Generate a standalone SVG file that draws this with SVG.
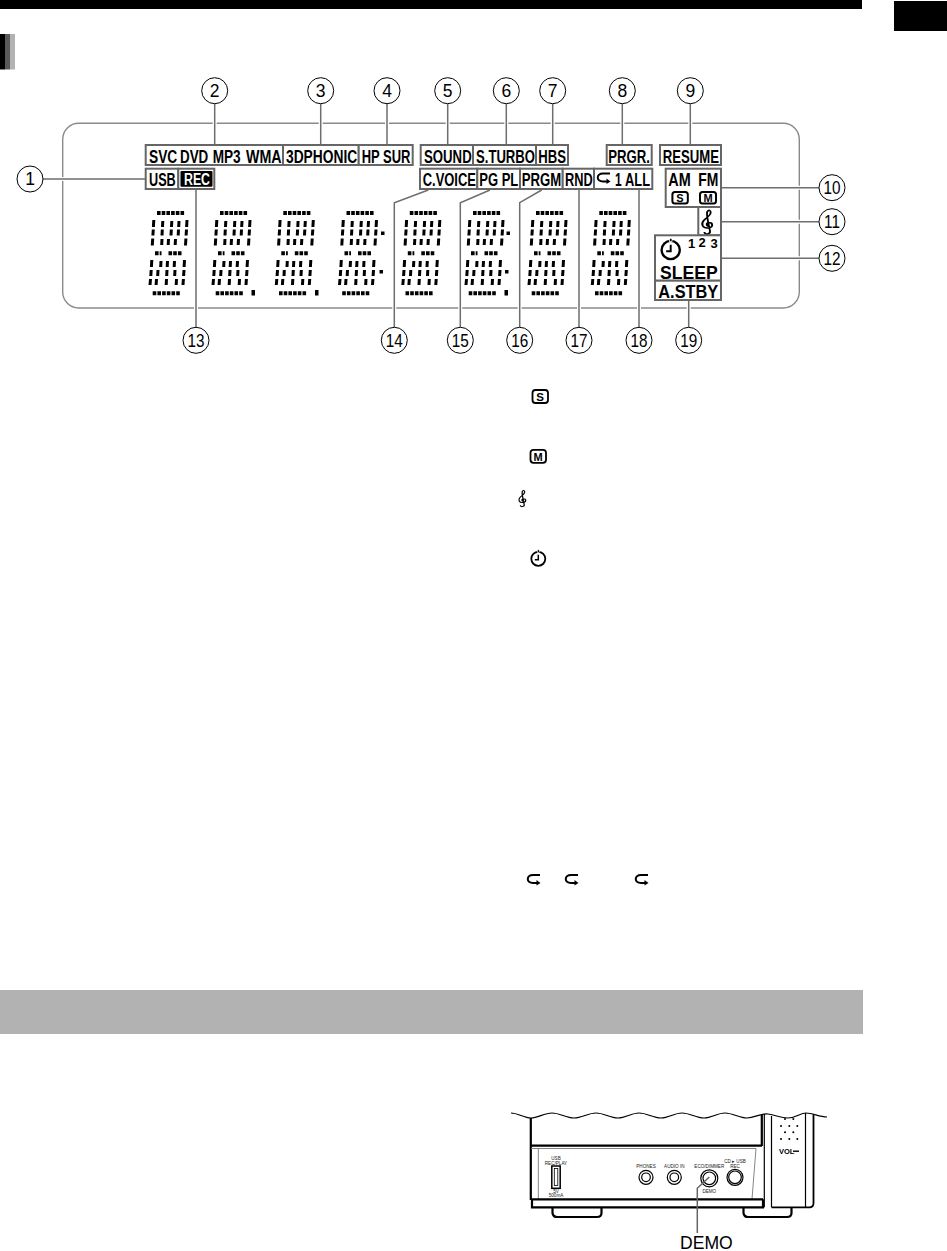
<svg xmlns="http://www.w3.org/2000/svg" xmlns:xlink="http://www.w3.org/1999/xlink" width="947" height="1251" viewBox="0 0 947 1251">
<style>
text{font-family:"Liberation Sans",Arial,sans-serif}
.lb{font-weight:bold;font-size:19px;fill:#000}
.box{fill:#fff;stroke:#666;stroke-width:2}
.frame{fill:none;stroke:#8a8a8a;stroke-width:1.4}
.lead{fill:none;stroke:#6e6e6e;stroke-width:1.5}
.halo{fill:none;stroke:#fff;stroke-width:4}
.num{fill:#fff;stroke:#000;stroke-width:1}
.numt{font-size:17.5px;text-anchor:middle;fill:#000}
.seg{fill:none;stroke:#000;stroke-width:3}
.hseg{fill:none;stroke:#000;stroke-width:4;stroke-dasharray:3.6 1.1}
.ln{fill:none;stroke:#000;stroke-width:1.2}
.th{fill:none;stroke:#000;stroke-width:2.2}
.gr{fill:none;stroke:#777;stroke-width:.9}
.tiny{font-size:4.6px;text-anchor:middle;fill:#222}
</style>
<defs>
<path id="leaders" d="M43 179H146M214.700 104V145M320.700 104V145M387 104V145M447.700 104V145M506.300 104V145M552.700 104V145M622.300 104V145M690.300 104V145M196 189V327M394.300 327V202.700L428.300 190M460.300 327V202.700L490 190M519.700 327V202.700L541.700 190M579 189V327M639 189V327M688.700 300V327M721 187.700H819M721 221.700H819M721 258.300H819"/>
<g id="digit">
<path class="hseg" d="M157 213H185"/>
<path class="hseg" d="M155 253.300H161.500M168.500 253.300H181.500"/>
<path class="hseg" d="M152.700 293.300H180"/>
<path class="seg" d="M153.800 220l-.4 7M162.800 221l-.3 6M171.800 221l-.3 6M179 221l-.3 6M187 220l-.4 7M153.300 229.500l-.4 6M162.300 229.500l-.3 6M171.300 229.500l-.3 6M178.500 229.500l-.3 6M186.500 229.500l-.4 6M152.700 238.500l-.4 7M162 239l-.3 6M168.500 239l-.3 6M175.500 239l-.3 6M185.900 238.500l-.4 7"/>
<path class="seg" d="M151.800 260l-.4 7M161 261l-.3 6M167.500 261l-.3 6M174.500 261l-.3 6M184.500 260l-.4 7M151.200 270l-.4 6M158 270l-.3 6M167 270l-.3 6M175 270l-.3 6M184 270l-.4 6M150.500 279l-.5 6M156.500 279l-.4 6M166.500 279l-.3 6M176.500 279l-.3 6M183.400 279l-.4 6"/>
</g>
<path id="clef" fill="none" stroke="#000" stroke-width="1.500" d="M1.500 4.500C-1 4.500-1.500 .5 1 .5C4.500 .5 5 5.500 .5 6C-4 6.500-5.500 2-3-1.500C-1-4 2-6 2.500-9C2.800-11.500 .8-13-.3-10C-1-7 1 3 2 9C2.500 12.500-2.500 13-2.500 10"/>
<g id="loop"><path fill="none" stroke="#000" stroke-width="2" d="M13 1H6C-1 1-1 9 6 9H10"/><path d="M9.500 6L13.500 9L9.500 11.500Z"/></g>
<g id="timer"><circle cx="0" cy="0" r="7" fill="none" stroke="#000" stroke-width="1.800"/><path d="M0-4V1H-3.500" fill="none" stroke="#000" stroke-width="1.500"/><rect x="-1" y="-9" width="2" height="2.500" fill="#000" stroke="#fff" stroke-width=".6"/></g>
</defs>

<g id="page-marks">
<rect x="0" y="0" width="862" height="9" fill="#000"/>
<rect x="894" y="1" width="53" height="30" fill="#000"/>
<rect x="0" y="34" width="5" height="35.500" fill="#000"/>
<rect x="5" y="34" width="5" height="35.500" fill="#595959"/>
<rect x="10" y="34" width="5" height="35.500" fill="#b2b2b2"/>
<rect x="0" y="990" width="863" height="44" fill="#b2b2b2"/>
</g>

<rect id="display-frame" x="62.700" y="123.300" width="736.600" height="184.700" rx="16" class="frame"/>

<g id="connectors">
<use xlink:href="#leaders" href="#leaders" class="halo"/>
<use xlink:href="#leaders" href="#leaders" class="lead"/>
</g>

<g id="digits">
<use href="#digit"/>
<use href="#digit" x="63"/>
<use href="#digit" x="126.300"/>
<use href="#digit" x="189.500"/>
<use href="#digit" x="252.800"/>
<use href="#digit" x="316"/>
<use href="#digit" x="379"/>
<use href="#digit" x="442.300"/>
<rect x="251.500" y="290" width="3.500" height="5.500"/>
<rect x="315" y="290" width="3.500" height="5.500"/>
<rect x="381" y="231.500" width="3.500" height="3.500"/>
<rect x="379.500" y="270" width="3.500" height="3.500"/>
<rect x="506.500" y="231.500" width="3.500" height="3.500"/>
<rect x="505" y="270" width="3.500" height="3.500"/>
<rect x="504.500" y="290" width="3.500" height="5.500"/>
</g>

<g id="label-svc"><rect class="box" x="145.700" y="145" width="137.300" height="20"/>
<text class="lb" transform="translate(149 163) scale(.725 1)">SVC</text>
<text class="lb" transform="translate(180 163) scale(.706 1)">DVD</text>
<text class="lb" transform="translate(212.700 163) scale(.717 1)">MP3</text>
<text class="lb" transform="translate(246 163) scale(.752 1)">WMA</text></g>
<g id="label-3d"><rect class="box" x="283" y="145" width="75.700" height="20"/><text class="lb" transform="translate(286 163) scale(.726 1)">3DPHONIC</text></g>
<g id="label-hpsur"><rect class="box" x="358.700" y="145" width="54" height="20"/><text class="lb" transform="translate(361.700 163) scale(.683 1)">HP SUR</text></g>
<g id="label-sound"><rect class="box" x="420.700" y="145" width="52.300" height="20"/><text class="lb" transform="translate(424 163) scale(.695 1)">SOUND</text></g>
<g id="label-sturbo"><rect class="box" x="473" y="145" width="63" height="20"/><text class="lb" transform="translate(476 163) scale(.69 1)">S.TURBO</text></g>
<g id="label-hbs"><rect class="box" x="536" y="145" width="32" height="20"/><text class="lb" transform="translate(538.300 163) scale(.691 1)">HBS</text></g>
<g id="label-prgr"><rect class="box" x="606.700" y="145" width="45" height="20"/><text class="lb" transform="translate(608.300 163) scale(.693 1)">PRGR.</text></g>
<g id="label-resume"><rect class="box" x="660" y="145" width="61" height="20"/><text class="lb" transform="translate(662.700 163) scale(.693 1)">RESUME</text></g>

<g id="label-usb"><rect class="box" x="145.700" y="168.700" width="32.600" height="20.300"/><text class="lb" transform="translate(149 186.300) scale(.666 1)">USB</text></g>
<g id="label-rec"><rect class="box" x="178.300" y="168.700" width="36" height="20.300"/><rect x="180.500" y="171" width="32" height="15.700" rx="1" fill="#000"/><text class="lb" transform="translate(184 184.700) scale(.77 1)" style="fill:#fff;font-size:16px">REC</text></g>
<g id="label-cvoice"><rect class="box" x="420" y="168.700" width="57.300" height="20.300"/><text class="lb" transform="translate(422.700 186.300) scale(.682 1)">C.VOICE</text></g>
<g id="label-pgpl"><rect class="box" x="477.300" y="168.700" width="42.700" height="20.300"/><text class="lb" transform="translate(479.300 186.300) scale(.684 1)">PG PL</text></g>
<g id="label-prgm"><rect class="box" x="520" y="168.700" width="42.700" height="20.300"/><text class="lb" transform="translate(521.700 186.300) scale(.695 1)">PRGM</text></g>
<g id="label-rnd"><rect class="box" x="562.700" y="168.700" width="31.300" height="20.300"/><text class="lb" transform="translate(565 186.300) scale(.673 1)">RND</text></g>
<g id="label-repeat"><rect class="box" x="594" y="168.700" width="58.300" height="20.300"/><use href="#loop" transform="translate(597 172.500)"/><text class="lb" transform="translate(615 186.300) scale(.63 1)">1</text><text class="lb" transform="translate(625 186.300) scale(.677 1)">ALL</text></g>

<g id="label-amfm"><rect class="box" x="665.700" y="168.700" width="55.300" height="38.300"/>
<text class="lb" transform="translate(668.300 185.500) scale(.759 1)">AM</text>
<text class="lb" transform="translate(698.300 185.500) scale(.73 1)">FM</text>
<rect x="672.400" y="192" width="15.400" height="11.600" rx="2.500" fill="#fff" stroke="#000" stroke-width="2"/>
<text x="680" y="202" font-size="11" font-weight="bold" text-anchor="middle">S</text>
<rect x="700" y="192" width="16" height="11.600" rx="2.500" fill="#fff" stroke="#000" stroke-width="2"/>
<text x="708" y="202" font-size="11" font-weight="bold" text-anchor="middle">M</text></g>
<g id="label-clef"><rect class="box" x="698.300" y="207" width="22.700" height="28.300"/><use href="#clef" transform="translate(707.500 222) scale(1.25 1)"/></g>
<g id="label-timer"><rect class="box" x="655" y="235.300" width="66" height="45.400"/>
<use href="#timer" transform="translate(670.700 250) scale(1.300)"/>
<text x="691.700" y="247.500" font-size="13" font-weight="bold" text-anchor="middle">1</text>
<text x="702" y="246.500" font-size="13" font-weight="bold" text-anchor="middle">2</text>
<text x="714" y="247.500" font-size="13" font-weight="bold" text-anchor="middle">3</text>
<text class="lb" transform="translate(660 278.500) scale(.926 1)">SLEEP</text></g>
<g id="label-astby"><rect class="box" x="655" y="280.700" width="66" height="19.300"/><text class="lb" transform="translate(658.300 297.500) scale(.861 1)">A.STBY</text></g>

<g id="n1"><circle class="num" cx="30" cy="179" r="13"/><text class="numt" x="30" y="185.300">1</text></g>
<g id="n2"><circle class="num" cx="214.700" cy="90.700" r="13"/><text class="numt" x="214.700" y="97">2</text></g>
<g id="n3"><circle class="num" cx="320.700" cy="90.700" r="13"/><text class="numt" x="320.700" y="97">3</text></g>
<g id="n4"><circle class="num" cx="387" cy="90.700" r="13"/><text class="numt" x="387" y="97">4</text></g>
<g id="n5"><circle class="num" cx="447.700" cy="90.700" r="13"/><text class="numt" x="447.700" y="97">5</text></g>
<g id="n6"><circle class="num" cx="506.300" cy="90.700" r="13"/><text class="numt" x="506.300" y="97">6</text></g>
<g id="n7"><circle class="num" cx="552.700" cy="90.700" r="13"/><text class="numt" x="552.700" y="97">7</text></g>
<g id="n8"><circle class="num" cx="622.300" cy="90.700" r="13"/><text class="numt" x="622.300" y="97">8</text></g>
<g id="n9"><circle class="num" cx="690.300" cy="90.700" r="13"/><text class="numt" x="690.300" y="97">9</text></g>
<g id="n10"><circle class="num" cx="832" cy="187.700" r="13"/><text class="numt" transform="translate(832 194) scale(.874 1)" x="0">10</text></g>
<g id="n11"><circle class="num" cx="832" cy="221.700" r="13"/><text class="numt" transform="translate(832 228) scale(.874 1)" x="0">11</text></g>
<g id="n12"><circle class="num" cx="832" cy="258.300" r="13"/><text class="numt" transform="translate(832 264.600) scale(.874 1)" x="0">12</text></g>
<g id="n13"><circle class="num" cx="196" cy="340.300" r="13"/><text class="numt" transform="translate(196 346.600) scale(.874 1)" x="0">13</text></g>
<g id="n14"><circle class="num" cx="394.300" cy="340.300" r="13"/><text class="numt" transform="translate(394.300 346.600) scale(.874 1)" x="0">14</text></g>
<g id="n15"><circle class="num" cx="460.300" cy="340.300" r="13"/><text class="numt" transform="translate(460.300 346.600) scale(.874 1)" x="0">15</text></g>
<g id="n16"><circle class="num" cx="519.700" cy="340.300" r="13"/><text class="numt" transform="translate(519.700 346.600) scale(.874 1)" x="0">16</text></g>
<g id="n17"><circle class="num" cx="579" cy="340.300" r="13"/><text class="numt" transform="translate(579 346.600) scale(.874 1)" x="0">17</text></g>
<g id="n18"><circle class="num" cx="639" cy="340.300" r="13"/><text class="numt" transform="translate(639 346.600) scale(.874 1)" x="0">18</text></g>
<g id="n19"><circle class="num" cx="688.700" cy="340.300" r="13"/><text class="numt" transform="translate(688.700 346.600) scale(.874 1)" x="0">19</text></g>

<g id="inline-icons">
<rect x="532.500" y="390" width="15.500" height="13" rx="3" fill="#fff" stroke="#000" stroke-width="1.800"/>
<text x="540.200" y="401" font-size="11.500" font-weight="bold" text-anchor="middle">S</text>
<rect x="530.500" y="449.800" width="15.500" height="13" rx="3" fill="#fff" stroke="#000" stroke-width="1.800"/>
<text x="538.200" y="460.800" font-size="11" font-weight="bold" text-anchor="middle">M</text>
<use href="#clef" transform="translate(522.500 498.500) scale(.85 .68)"/>
<use href="#timer" transform="translate(538.300 558.800)"/>
<use href="#loop" transform="translate(527 874)"/>
<use href="#loop" transform="translate(565 874)"/>
<use href="#loop" transform="translate(635 874)"/>
</g>

<g id="device">
<path class="ln" d="M511 1113C518 1113 524 1118 531 1118C538 1118 544 1113 552 1113C560 1113 566 1118 574 1118C582 1118 588 1113 596 1113C604 1113 610 1118 618 1118C626 1118 631 1113 639 1113C647 1113 653 1118 661 1118C669 1118 674 1113 682 1113C690 1113 696 1118 704 1118C712 1118 717 1113 725 1113C733 1113 739 1118 747 1118C755 1118 760 1113 768 1114C776 1115 780 1118 788 1118C796 1118 800 1113 806 1113C813 1113 819 1117 827 1117"/>
<path class="th" d="M530.800 1118V1200"/>
<path class="th" d="M531 1145.700H762M761.800 1115V1146"/>
<path class="gr" d="M531 1148.500H756M538.300 1148.500V1199M756 1148.500L752 1199"/>
<path class="th" d="M531 1199.300H763M532 1199.300V1207.300H763V1199.300"/>
<path class="ln" d="M764.300 1114V1207.300M771.500 1116V1207.300M805.500 1113V1207.300"/>
<path d="M771.500 1207.300H810Q813.500 1207 813.500 1203V1114" fill="none" stroke="#000" stroke-width="1.800"/>
<path class="th" d="M552.500 1208V1213Q553 1217 557 1217H597Q601.500 1217 601.500 1213V1208"/>
<path class="th" d="M743.500 1208V1213Q744 1217 748 1217H787Q791.500 1217 791.500 1213V1208"/>
<g fill="#000"><circle cx="785" cy="1119" r="1"/><circle cx="793.300" cy="1119" r="1"/><circle cx="781" cy="1126" r="1"/><circle cx="789.300" cy="1126" r="1"/><circle cx="797.300" cy="1126" r="1"/><circle cx="785" cy="1132.300" r="1"/><circle cx="793.300" cy="1132.300" r="1"/><circle cx="781" cy="1139" r="1"/><circle cx="789.300" cy="1139" r="1"/><circle cx="797.300" cy="1139" r="1"/></g>
<text x="779" y="1154" font-size="7.500" font-weight="bold">VOL</text><rect x="793" y="1150.500" width="6" height="1.400"/>
<rect x="551.800" y="1166" width="8.400" height="22.300" fill="none" stroke="#000" stroke-width="1.500"/><rect x="554.300" y="1168.500" width="3.500" height="17" fill="none" stroke="#000" stroke-width=".8"/>
<text class="tiny" x="556" y="1160">USB</text><text class="tiny" x="556" y="1164.500">REC/PLAY</text><text class="tiny" x="556" y="1193">5V</text><text class="tiny" x="556" y="1197">500mA</text>
<circle class="ln" cx="646" cy="1177.300" r="7"/><circle class="ln" cx="646" cy="1177.300" r="4.300"/>
<circle class="ln" cx="674.300" cy="1177.300" r="7"/><circle class="ln" cx="674.300" cy="1177.300" r="4.300"/>
<circle class="ln" cx="709.300" cy="1178.300" r="8.500"/><circle class="ln" cx="709.300" cy="1178.300" r="6.300"/>
<circle class="ln" cx="735" cy="1177.300" r="8"/><circle class="ln" cx="735" cy="1177.300" r="6.300"/>
<text class="tiny" x="646" y="1167.500">PHONES</text><text class="tiny" x="674.300" y="1167.500">AUDIO IN</text><text class="tiny" x="709.300" y="1167.500">ECO/DIMMER</text><text class="tiny" x="709.300" y="1192.500">DEMO</text><text class="tiny" x="735" y="1162.500">CD ▸ USB</text><text class="tiny" x="735" y="1167.500">REC</text>
<path d="M709.300 1177L697.300 1188.300V1233" fill="none" stroke="#666" stroke-width="1.500"/>
<text x="680" y="1249" font-size="17.500" textLength="52.700" lengthAdjust="spacingAndGlyphs">DEMO</text>
</g>
</svg>
